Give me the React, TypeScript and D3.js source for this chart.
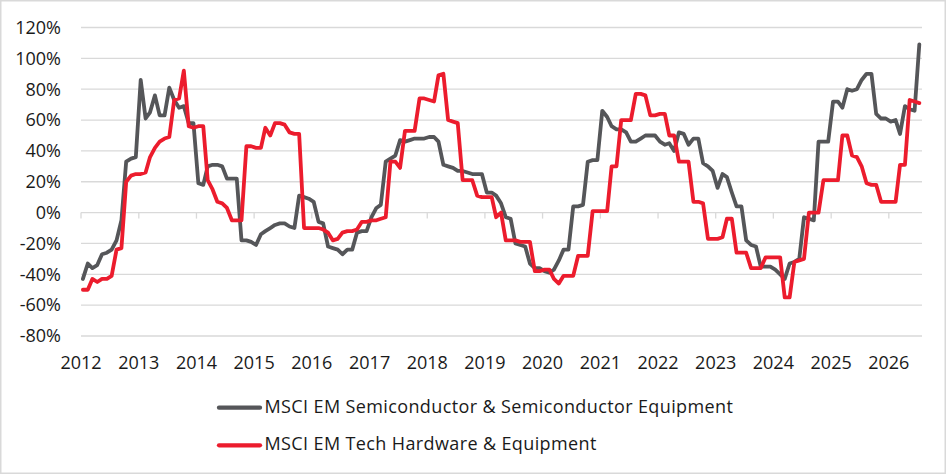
import { useRef, useEffect } from 'react';
import * as d3 from 'd3';

// Monthly readings, Jan 2012 .. Jul 2026 (% y/y)
const START_YEAR = 2012;
const semis = [
  -43, -33, -36, -34, -27, -26, -24, -18, -5, 33, 35, 36,
  86, 61, 65, 76, 63, 63, 81, 73, 68, 69, 58, 58,
  19, 18, 30, 31, 31, 30, 22, 22, 22, -18, -18, -19,
  -21, -14, -12, -10, -8, -7, -7, -9, -10, 11, 10, 9,
  7, -6, -7, -22, -23, -24, -27, -24, -24, -13, -12, -12,
  -3, 3, 5, 33, 35, 37, 47, 46, 47, 48, 48, 48,
  49, 49, 46, 31, 30, 29, 27, 27, 26, 25, 25, 25,
  13, 13, 11, 6, -3, -4, -20, -21, -22, -33, -36, -36,
  -38, -39, -37, -31, -24, -24, 4, 4, 5, 33, 34, 34,
  66, 62, 56, 54, 54, 52, 46, 46, 48, 50, 50, 50,
  46, 44, 45, 40, 52, 51, 44, 48, 48, 32, 30, 27,
  16, 25, 23, 13, 4, 4, -18, -21, -22, -35, -35, -35,
  -37, -40, -43, -33, -32, -30, -3, -4, -5, 46, 46, 46,
  72, 72, 68, 80, 79, 80, 86, 90, 90, 64, 61, 61,
  59, 60, 51, 69, 67, 66, 109,
];
const hardware = [
  -50, -50, -43, -45, -43, -43, -41, -24, -23, 20, 24, 25,
  25, 26, 36, 42, 46, 48, 49, 73, 74, 92, 56, 55,
  56, 56, 21, 15, 7, 6, 3, -5, -5, -5, 43, 43,
  42, 42, 55, 50, 58, 58, 57, 52, 51, 51, -10, -10,
  -10, -10, -11, -13, -18, -17, -13, -12, -12, -11, -6, -6,
  -5, -5, -4, -3, 33, 33, 29, 53, 53, 53, 74, 74,
  73, 72, 89, 90, 60, 59, 58, 21, 21, 21, 11, 10,
  10, 10, -3, 0, -18, -18, -18, -19, -19, -19, -38, -38,
  -37, -37, -43, -46, -41, -41, -41, -28, -28, -28, 1, 1,
  1, 1, 30, 30, 60, 60, 60, 77, 77, 76, 63, 63,
  64, 64, 50, 50, 33, 33, 33, 7, 7, 6, -17, -17,
  -17, -16, -4, -4, -26, -26, -26, -36, -36, -36, -29, -29,
  -29, -29, -55, -55, -32, -31, -30, 0, 0, 0, 21, 21,
  21, 21, 50, 50, 37, 36, 30, 19, 18, 18, 7, 7,
  7, 7, 31, 31, 73, 72, 71,
];
const yTicks = [-80, -60, -40, -20, 0, 20, 40, 60, 80, 100, 120];
const years = d3.range(2012, 2027);
const seriesNames = [
  'MSCI EM Semiconductor & Semiconductor Equipment',
  'MSCI EM Tech Hardware & Equipment',
];
const seriesValues = [semis, hardware];

const W = 946;
const H = 474;
const COLOURS = ['#555659', '#ec1c2d'];
const FONT = '"Open Sans", sans-serif';
const PLOT = { left: 81, right: 922, top: 27.5, bottom: 336 };

export default function App() {
  const svgRef = useRef<SVGSVGElement>(null);

  useEffect(() => {
    if (!svgRef.current) return;
    const svg = d3.select(svgRef.current);
    svg.selectAll('*').remove();

    const x = d3.scaleTime()
      .domain([new Date(2012, 0, 1), new Date(2026, 6, 30)])
      .range([PLOT.left, PLOT.right]);

    const y = d3.scaleLinear()
      .domain([-80, 120])
      .range([PLOT.bottom, PLOT.top]);

    // chart border
    svg.append('rect')
      .attr('x', 0.75).attr('y', 0.75)
      .attr('width', W - 1.5).attr('height', H - 1.5)
      .attr('fill', '#fff')
      .attr('stroke', '#d9d9d9')
      .attr('stroke-width', 1.5);

    // Horizontal grid
    svg.append('g')
      .selectAll('line')
      .data(yTicks)
      .join('line')
      .attr('x1', PLOT.left)
      .attr('x2', PLOT.right)
      .attr('y1', d => y(d))
      .attr('y2', d => y(d))
      .attr('stroke', '#d9d9d9')
      .attr('stroke-width', 1.3);

    // Y labels
    svg.append('g')
      .selectAll('text')
      .data(yTicks)
      .join('text')
      .attr('x', 61)
      .attr('y', d => y(d))
      .attr('dy', '0.35em')
      .attr('text-anchor', 'end')
      .attr('font-family', FONT)
      .attr('font-size', 18)
      .attr('fill', '#1a1a1a')
      .text(d => `${d}%`);

    // X axis sits on 0%
    const x0 = y(0);
    svg.append('g')
      .selectAll('line')
      .data(years)
      .join('line')
      .attr('x1', d => x(new Date(d, 0, 1)))
      .attr('x2', d => x(new Date(d, 0, 1)))
      .attr('y1', x0)
      .attr('y2', x0 + 6)
      .attr('stroke', '#d9d9d9')
      .attr('stroke-width', 1.3);

    svg.append('g')
      .selectAll('text')
      .data(years)
      .join('text')
      .attr('x', d => x(new Date(d, 0, 1)))
      .attr('y', 369)
      .attr('text-anchor', 'middle')
      .attr('font-family', FONT)
      .attr('font-size', 18)
      .attr('fill', '#1a1a1a')
      .text(d => d);

    const line = d3.line<number>()
      .x((_, i) => x(new Date(START_YEAR, i, 13)))
      .y(d => y(d));

    seriesValues.forEach((vals, i) => {
      svg.append('path')
        .datum(vals)
        .attr('fill', 'none')
        .attr('stroke', COLOURS[i])
        .attr('stroke-width', 3.8)
        .attr('stroke-linejoin', 'round')
        .attr('stroke-linecap', 'round')
        .attr('d', line);
    });

    // Legend
    const legend = svg.append('g');
    seriesNames.forEach((name, i) => {
      const ly = 407.7 + i * 37.6;
      legend.append('line')
        .attr('x1', 219)
        .attr('x2', 260)
        .attr('y1', ly)
        .attr('y2', ly)
        .attr('stroke', COLOURS[i])
        .attr('stroke-width', 4.3)
        .attr('stroke-linecap', 'round');
      legend.append('text')
        .attr('x', 264.5)
        .attr('y', ly + 5)
        .attr('font-family', FONT)
        .attr('font-size', 18)
        .attr('letter-spacing', 0.38)
        .attr('fill', '#1a1a1a')
        .text(name);
    });
  }, []);

  return (
    <svg
      ref={svgRef}
      width={W}
      height={H}
      style={{ position: 'absolute', left: 0, top: 0, background: '#fff' }}
    />
  );
}
